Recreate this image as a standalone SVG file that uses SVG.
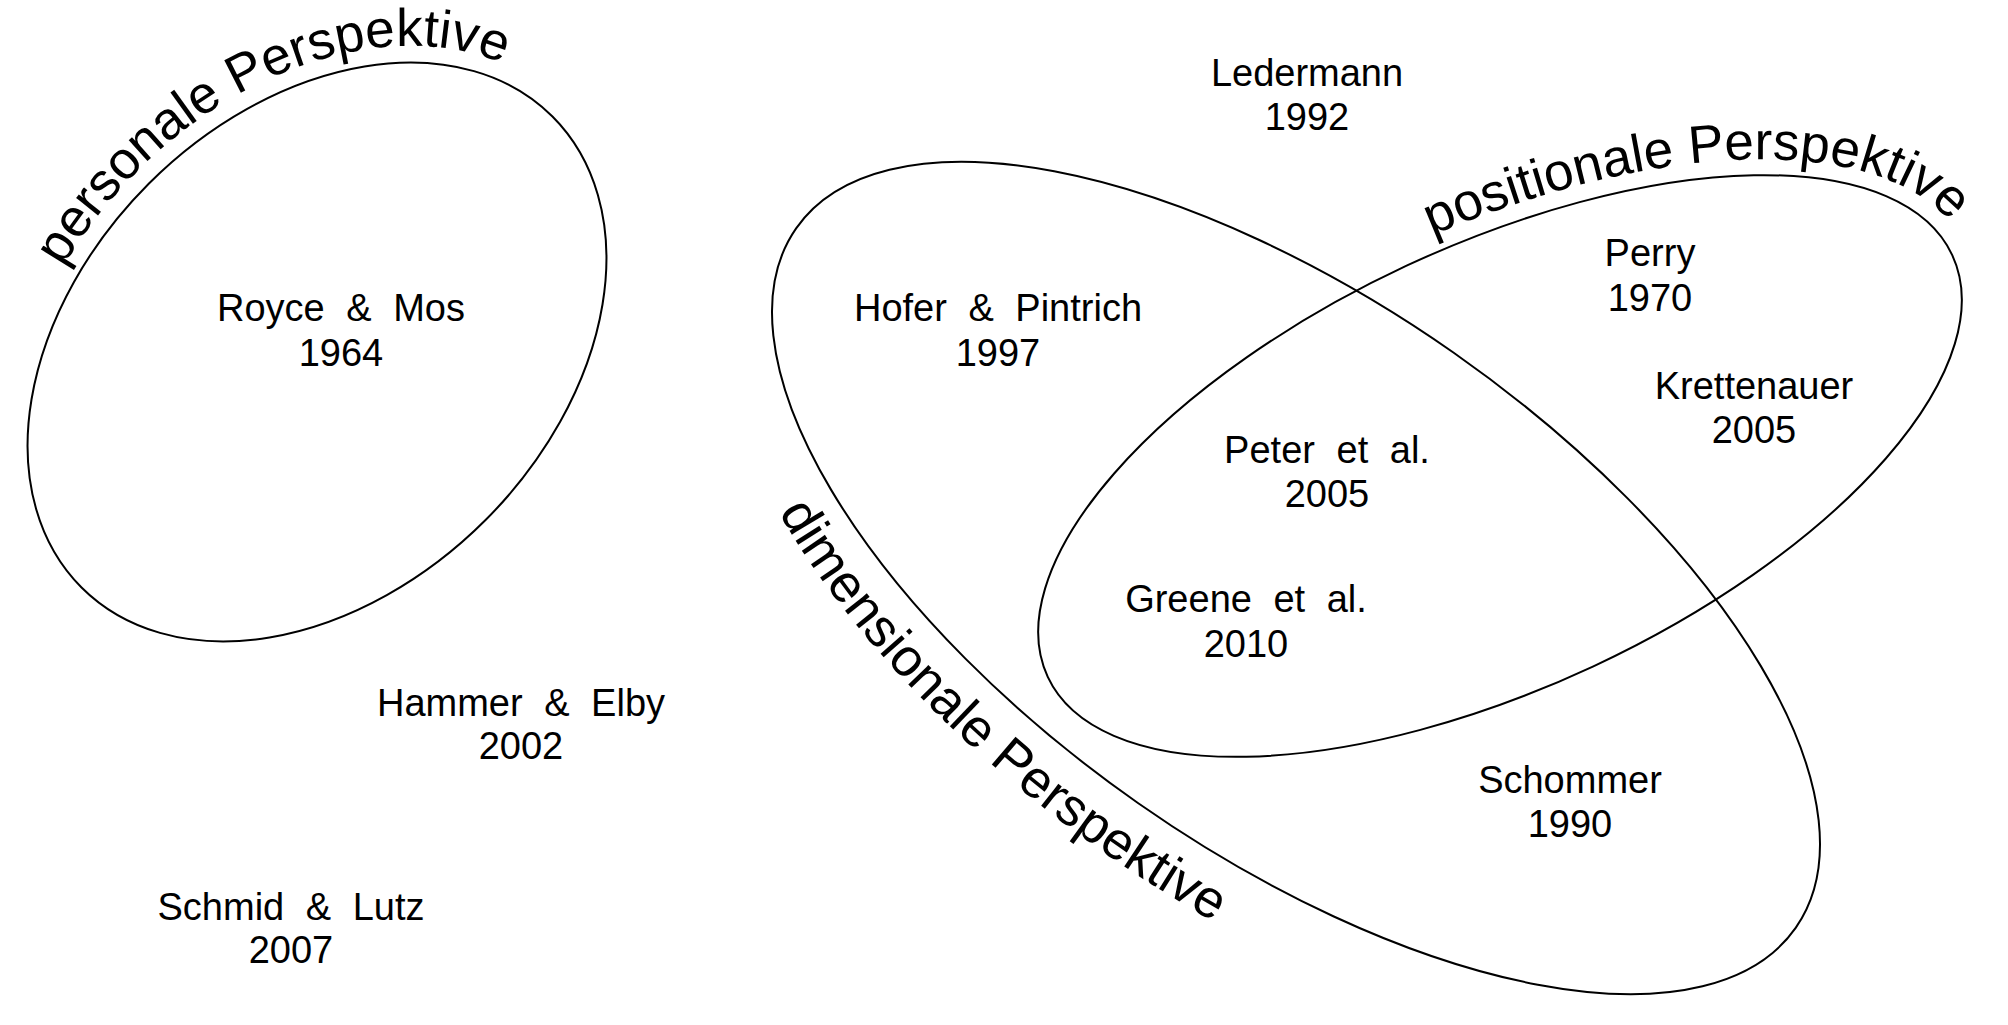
<svg xmlns="http://www.w3.org/2000/svg" xmlns:xlink="http://www.w3.org/1999/xlink" width="2008" height="1025" viewBox="0 0 2008 1025">
<style>
.bg{fill:#ffffff}
.set{fill:none;stroke:#000000;stroke-width:2}
.n{font-family:"Liberation Sans",Arial,sans-serif;font-size:38px;text-anchor:middle;word-spacing:11px;fill:#000000}
.c{font-family:"Liberation Sans",Arial,sans-serif;font-size:53px;fill:#000000}
</style>
<defs>
<path id="pPers" d="M -119.7 -239.6 A 350 255 0 0 1 328.9 87.2"/>
<path id="pPos" d="M 36 -237.4 A 516 238 0 0 1 498.4 61.6"/>
<path id="pDim" d="M -461.2 243 A 670 335 0 0 0 335 290.1"/>
</defs>
<rect class="bg" x="0" y="0" width="2008" height="1025"/>
<g id="connectors"/>
<g id="personale" transform="translate(317 352) rotate(-45)">
<ellipse class="set" cx="0" cy="0" rx="333" ry="238"/>
<text class="c"><textPath href="#pPers" xlink:href="#pPers">personale Perspektive</textPath></text>
</g>
<g id="dimensionale" transform="translate(1296 578) rotate(35)">
<ellipse class="set" cx="0" cy="0" rx="610" ry="275"/>
<text class="c"><textPath href="#pDim" xlink:href="#pDim">dimensionale Perspektive</textPath></text>
</g>
<g id="positionale" transform="translate(1500 466) rotate(-25)">
<ellipse class="set" cx="0" cy="0" rx="499" ry="221"/>
<text class="c"><textPath href="#pPos" xlink:href="#pPos">positionale Perspektive</textPath></text>
</g>
<g id="royce"><text class="n" x="341" y="321">Royce &amp; Mos<tspan x="341" y="366">1964</tspan></text></g>
<g id="hammer"><text class="n" x="521" y="716">Hammer &amp; Elby<tspan x="521" y="759">2002</tspan></text></g>
<g id="schmid"><text class="n" x="291" y="920">Schmid &amp; Lutz<tspan x="291" y="963">2007</tspan></text></g>
<g id="ledermann"><text class="n" x="1307" y="86">Ledermann<tspan x="1307" y="130">1992</tspan></text></g>
<g id="hofer"><text class="n" x="998" y="321">Hofer &amp; Pintrich<tspan x="998" y="366">1997</tspan></text></g>
<g id="perry"><text class="n" x="1650" y="266">Perry<tspan x="1650" y="311">1970</tspan></text></g>
<g id="krettenauer"><text class="n" x="1754" y="399">Krettenauer<tspan x="1754" y="443">2005</tspan></text></g>
<g id="peter"><text class="n" x="1327" y="463">Peter et al.<tspan x="1327" y="507">2005</tspan></text></g>
<g id="greene"><text class="n" x="1246" y="612">Greene et al.<tspan x="1246" y="657">2010</tspan></text></g>
<g id="schommer"><text class="n" x="1570" y="793">Schommer<tspan x="1570" y="837">1990</tspan></text></g>
</svg>
